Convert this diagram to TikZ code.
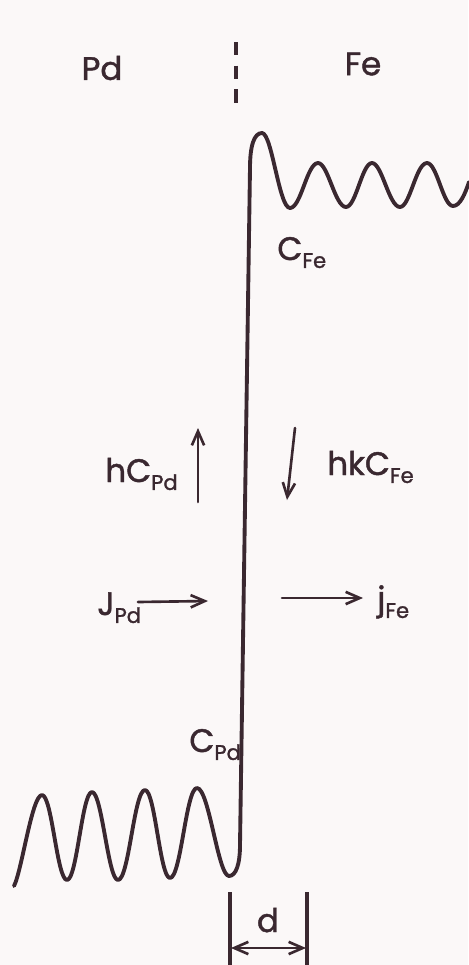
\documentclass[tikz,border=0pt]{standalone}
\usepackage{fontspec}
\setmainfont{Poppins}[FakeBold=1.4]
\usetikzlibrary{arrows.meta}
\definecolor{ink}{RGB}{58,40,48}
\definecolor{paper}{RGB}{251,248,248}
\newcommand{\sub}[1]{\raisebox{-4.5pt}{\fontsize{12}{12}\selectfont #1}}

\begin{document}
\begin{tikzpicture}[x=0.02cm, y=-0.02cm,
  inkline/.style={draw=ink, line width=1.5pt, line cap=round},
  lbl/.style={text=ink, inner sep=0pt, font=\fontsize{18.5}{20}\selectfont},
  >={Straight Barb[length=8pt,width=7pt]}]
  % paper
  \fill[paper] (0,0) rectangle (468,965);
  \useasboundingbox (0,0) rectangle (468,965);

  % metals and interface
  \node[lbl] (pd) at (102,68) {Pd};
  \node[lbl] (fe) at (363,64) {Fe};
  \coordinate (if-top) at (236,42);
  \coordinate (if-bot) at (236,107);
  \draw[ink, line width=2.2pt, dash pattern=on 7.5pt off 6pt] (if-top) -- (if-bot);

  % concentration profile: Pd side, interface, Fe side
  \draw[ink, line width=2.2pt, line cap=round, line join=round]
    (14,886) .. controls (22,870) and (32,795) .. (42,795)
    .. controls (52,795) and (57,880) .. (67,880)
    .. controls (77,880) and (82,792) .. (92,792)
    .. controls (102,792) and (108,880) .. (118,880)
    .. controls (129,880) and (134,790) .. (145,790)
    .. controls (155,790) and (160,878) .. (170,878)
    .. controls (181,878) and (186,788) .. (197,788)
    .. controls (209,788) and (218,876) .. (229,876)
    .. controls (236,876) and (240,864) .. (240,845)
    -- (250,168)
    .. controls (250,146) and (254,133) .. (262,133)
    .. controls (272,133) and (279,208) .. (290,208)
    .. controls (301,208) and (307,163) .. (318,163)
    .. controls (328,163) and (335,207) .. (346,207)
    .. controls (356,207) and (362,163) .. (372,163)
    .. controls (382,163) and (389,207) .. (400,207)
    .. controls (410,207) and (416,163) .. (427,163)
    .. controls (437,163) and (443,206) .. (453,206)
    .. controls (460,206) and (465,194) .. (469,182);

  % labels
  \node[lbl, anchor=base west] (cfe) at (277,260) {C\sub{Fe}};
  \node[lbl, anchor=base west] (cpd) at (189,752) {C\sub{Pd}};
  \node[lbl, anchor=base west] (hcpd) at (105,482) {hC\sub{Pd}};
  \node[lbl, anchor=base west] (hkcfe) at (327,475) {hkC\sub{Fe}};
  \node[lbl, anchor=base west] (jpd) at (97,615) {J\sub{Pd}};
  \node[lbl, anchor=base west] (jfe) at (377,610) {j\sub{Fe}};

  % fluxes
  \coordinate (hpd-s) at (198,502);
  \coordinate (hpd-e) at (198,428);
  \coordinate (hfe-s) at (295,428);
  \coordinate (hfe-e) at (287,500);
  \coordinate (jpd-s) at (138,602);
  \coordinate (jpd-e) at (208,601);
  \coordinate (jfe-s) at (282,598);
  \coordinate (jfe-e) at (363,598);
  \draw[inkline, ->] (hpd-s) -- (hpd-e);
  \draw[inkline, ->] (hfe-s) -- (hfe-e);
  \draw[inkline, ->] (jpd-s) -- (jpd-e);
  \draw[inkline, ->] (jfe-s) -- (jfe-e);

  % thickness d
  \coordinate (dl-top) at (230,892);
  \coordinate (dl-bot) at (230,965);
  \coordinate (dr-top) at (307,892);
  \coordinate (dr-bot) at (307,965);
  \coordinate (d-l) at (231,948);
  \coordinate (d-r) at (306,948);
  \draw[ink, line width=1.9pt] (dl-top) -- (dl-bot);
  \draw[ink, line width=1.9pt] (dr-top) -- (dr-bot);
  \draw[inkline, <->] (d-l) -- (d-r);
  \node[lbl, anchor=base] (d) at (268,932) {d};
\end{tikzpicture}
\end{document}
